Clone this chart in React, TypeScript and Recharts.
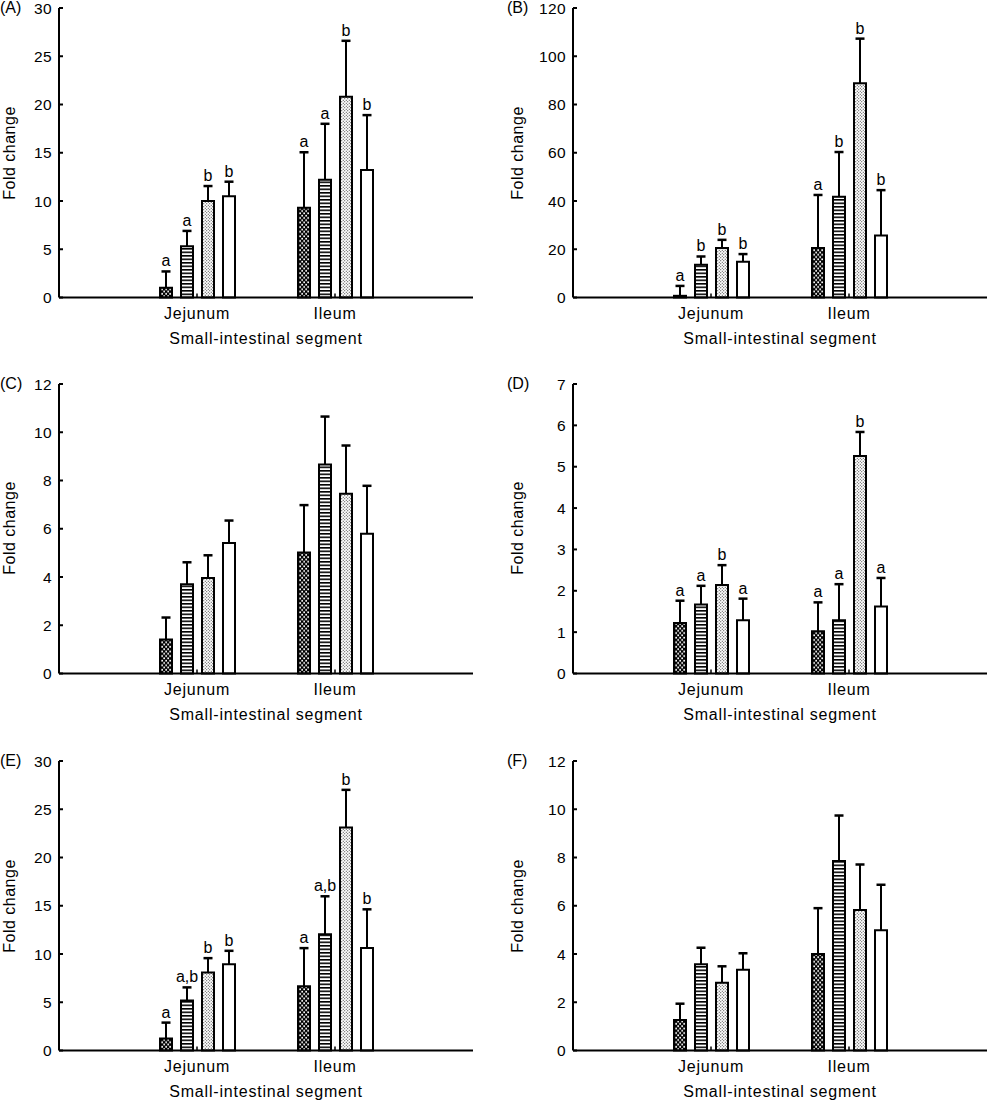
import { BarChart, Bar, XAxis, YAxis, LabelList } from 'recharts';

const FONT = '"Liberation Sans", Arial, Helvetica, sans-serif';

const segments = ['Jejunum', 'Ileum'];
const seriesKeys = ['d1', 'd2', 'd3', 'd4'];

// (A)
const aMeans = [[1.0, 5.3, 10.0, 10.5], [9.3, 12.2, 20.8, 13.2]];
const aErrors = [[1.7, 1.6, 1.55, 1.5], [5.75, 5.8, 5.8, 5.7]];
const aLetters = [['a', 'a', 'b', 'b'], ['a', 'a', 'b', 'b']];
const aTicks = [0, 5, 10, 15, 20, 25, 30];

// (B)
const bMeans = [[0.7, 13.6, 20.5, 14.8], [20.5, 41.8, 88.8, 25.7]];
const bErrors = [[4.1, 3.4, 3.4, 3.2], [22.0, 18.5, 18.5, 18.8]];
const bLetters = [['a', 'b', 'b', 'b'], ['a', 'b', 'b', 'b']];
const bTicks = [0, 20, 40, 60, 80, 100, 120];

// (C)
const cMeans = [[1.41, 3.7, 3.96, 5.41], [5.02, 8.66, 7.45, 5.79]];
const cErrors = [[0.91, 0.91, 0.94, 0.93], [1.96, 1.99, 2.0, 1.99]];
const cTicks = [0, 2, 4, 6, 8, 10, 12];

// (D)
const dMeans = [[1.22, 1.67, 2.14, 1.29], [1.02, 1.29, 5.26, 1.62]];
const dErrors = [[0.54, 0.45, 0.48, 0.52], [0.7, 0.87, 0.58, 0.69]];
const dLetters = [['a', 'a', 'b', 'a'], ['a', 'a', 'b', 'a']];
const dTicks = [0, 1, 2, 3, 4, 5, 6, 7];

// (E)
const eMeans = [[1.24, 5.17, 8.09, 8.95], [6.65, 12.05, 23.11, 10.61]];
const eErrors = [[1.65, 1.37, 1.48, 1.38], [3.96, 3.93, 3.9, 4.02]];
const eLetters = [['a', 'a,b', 'b', 'b'], ['a', 'a,b', 'b', 'b']];
const eTicks = [0, 5, 10, 15, 20, 25, 30];

// (F)
const fMeans = [[1.26, 3.57, 2.81, 3.35], [4.0, 7.85, 5.82, 4.98]];
const fErrors = [[0.68, 0.69, 0.68, 0.68], [1.9, 1.89, 1.89, 1.89]];
const fTicks = [0, 2, 4, 6, 8, 10, 12];

const PLOT_W = 414;
const PLOT_H = 289.5;
const Y_AXIS_W = 60;
const X_AXIS_H = 60;
const TOP_PAD = 12;

const buildRows = (means, errors, letters) =>
  segments.map((segment, i) => {
    const row: any = { segment };
    seriesKeys.forEach((k, j) => {
      row[k] = means[i][j];
      row[k + 'Err'] = errors[i][j];
      row[k + 'Lab'] = letters ? letters[i][j] : '';
    });
    return row;
  });

const Whisker = (props: any) => {
  const { x, y, width, height } = props;
  const cx = x + width / 2;
  return (
    <g>
      <line x1={cx} x2={cx} y1={y} y2={y + height} stroke="#000" strokeWidth={2} />
      <line x1={cx - 4.5} x2={cx + 4.5} y1={y} y2={y} stroke="#000" strokeWidth={2.5} />
    </g>
  );
};

const XTick = (props: any) => {
  const { x, y, payload } = props;
  return (
    <g>
      <line x1={x} x2={x} y1={y - 4} y2={y} stroke="#000" strokeWidth={1.5} />
      <text x={x} y={y + 21} textAnchor="middle" fontSize={16} fill="#000"
        style={{ fontFamily: FONT, letterSpacing: 0.8 }}>
        {payload.value}
      </text>
    </g>
  );
};

const YTick = (props: any) => {
  const { x, y, payload } = props;
  return (
    <g>
      <line x1={x} x2={x + 4} y1={y} y2={y} stroke="#000" strokeWidth={2} />
      <text x={x - 7} y={y} dy="0.36em" textAnchor="end" fontSize={15.5} fill="#000"
        style={{ fontFamily: FONT, letterSpacing: 0.4 }}>
        {payload.value}
      </text>
    </g>
  );
};

function Panel({ id, name, axisX, plotTop, letterX, foldX, means, errors, letters, ticks }: any) {
  const data = buildRows(means, errors, letters);
  const yMax = ticks[ticks.length - 1];
  const fills = [`url(#${id}-p0)`, `url(#${id}-p1)`, `url(#${id}-p2)`, '#fff'];
  return (
    <>
      <div style={{ position: 'absolute', left: axisX - Y_AXIS_W, top: plotTop - TOP_PAD }}>
        <BarChart
          width={Y_AXIS_W + PLOT_W}
          height={TOP_PAD + PLOT_H + X_AXIS_H}
          data={data}
          margin={{ top: TOP_PAD, right: 0, bottom: 0, left: 0 }}
          barSize={12}
          barGap={9}
        >
          <defs>
            <pattern id={`${id}-p0`} width={4} height={4.6} patternUnits="userSpaceOnUse">
              <rect width={4} height={4.6} fill="#000" />
              <rect x={0.3} y={0.3} width={1.7} height={1.7} fill="#fff" />
              <rect x={2.3} y={2.6} width={1.7} height={1.7} fill="#fff" />
            </pattern>
            <pattern id={`${id}-p1`} width={4} height={3.5} patternUnits="userSpaceOnUse">
              <rect width={4} height={3.5} fill="#fff" />
              <rect width={4} height={1.6} fill="#000" />
            </pattern>
            <pattern id={`${id}-p2`} width={3} height={3} patternUnits="userSpaceOnUse">
              <rect width={3} height={3} fill="#fff" />
              <rect x={0.3} y={0.3} width={0.9} height={0.9} fill="#111" />
              <rect x={1.8} y={1.8} width={0.9} height={0.9} fill="#111" />
            </pattern>
          </defs>
          <XAxis
            dataKey="segment"
            height={X_AXIS_H}
            padding={{ left: 69, right: 69 }}
            interval={0}
            tickLine={false}
            tickSize={0}
            tickMargin={0}
            axisLine={{ stroke: '#000', strokeWidth: 2 }}
            tick={(p: any) => <XTick {...p} />}
            label={{
              value: 'Small-intestinal segment',
              position: 'insideBottom',
              offset: 14,
              fill: '#000',
              fontSize: 16,
              style: { fontFamily: FONT, letterSpacing: 0.8, fill: '#000' },
            }}
          />
          <YAxis
            width={Y_AXIS_W}
            domain={[0, yMax]}
            ticks={ticks}
            interval={0}
            tickLine={false}
            tickSize={0}
            tickMargin={0}
            axisLine={{ stroke: '#000', strokeWidth: 2 }}
            tick={(p: any) => <YTick {...p} />}
          />
          {seriesKeys.flatMap((k, j) => [
            <Bar
              key={k}
              dataKey={k}
              stackId={k}
              fill={fills[j]}
              stroke="#000"
              strokeWidth={2}
              isAnimationActive={false}
            />,
            <Bar
              key={k + 'Err'}
              dataKey={k + 'Err'}
              stackId={k}
              fill="none"
              shape={(p: any) => <Whisker {...p} />}
              isAnimationActive={false}
            >
              {letters && (
                <LabelList
                  dataKey={k + 'Lab'}
                  position="top"
                  offset={5}
                  fill="#000"
                  fontSize={16}
                  style={{ fontFamily: FONT, fill: '#000' }}
                />
              )}
            </Bar>,
          ])}
        </BarChart>
      </div>
      <div
        style={{
          position: 'absolute',
          left: letterX,
          top: plotTop,
          transform: 'translateY(-50%)',
          fontFamily: FONT,
          fontSize: 16,
          lineHeight: 1,
          color: '#000',
        }}
      >
        {name}
      </div>
      <div
        style={{
          position: 'absolute',
          left: foldX,
          top: plotTop + PLOT_H / 2,
          transform: 'translate(-50%, -50%) rotate(-90deg)',
          fontFamily: FONT,
          fontSize: 16,
          letterSpacing: 0.5,
          lineHeight: 1,
          whiteSpace: 'nowrap',
          color: '#000',
        }}
      >
        Fold change
      </div>
    </>
  );
}

const LEFT = { axisX: 58.7, letterX: 0, foldX: 10 };
const RIGHT = { axisX: 573.3, letterX: 507, foldX: 518 };
const ROWS = [8.3, 383.6, 761.3];

export default function App() {
  return (
    <div
      style={{
        position: 'absolute',
        left: 0,
        top: 0,
        width: 988,
        height: 1101,
        overflow: 'hidden',
        background: '#fff',
      }}
    >
      <Panel id="pa" name="(A)" {...LEFT} plotTop={ROWS[0]} means={aMeans} errors={aErrors} letters={aLetters} ticks={aTicks} />
      <Panel id="pb" name="(B)" {...RIGHT} plotTop={ROWS[0]} means={bMeans} errors={bErrors} letters={bLetters} ticks={bTicks} />
      <Panel id="pc" name="(C)" {...LEFT} plotTop={ROWS[1]} means={cMeans} errors={cErrors} letters={null} ticks={cTicks} />
      <Panel id="pd" name="(D)" {...RIGHT} plotTop={ROWS[1]} means={dMeans} errors={dErrors} letters={dLetters} ticks={dTicks} />
      <Panel id="pe" name="(E)" {...LEFT} plotTop={ROWS[2]} means={eMeans} errors={eErrors} letters={eLetters} ticks={eTicks} />
      <Panel id="pf" name="(F)" {...RIGHT} plotTop={ROWS[2]} means={fMeans} errors={fErrors} letters={null} ticks={fTicks} />
    </div>
  );
}
